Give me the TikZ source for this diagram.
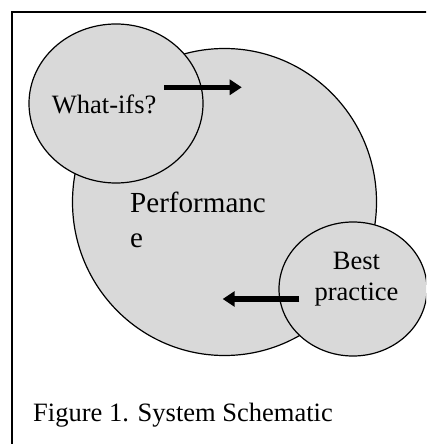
\documentclass[tikz,border=0pt]{standalone}
\usepackage{fontspec}
\setmainfont{Liberation Serif}
\usetikzlibrary{shapes.geometric,arrows.meta}
\definecolor{blobfill}{RGB}{217,217,217}
\tikzset{
  blob/.style={ellipse, draw=black, line width=1.2bp, fill=blobfill, inner sep=0pt},
  lbl/.style={inner sep=0pt, font=\fontsize{26.6}{31}\selectfont},
  biglbl/.style={inner sep=0pt, font=\fontsize{29.2}{34}\selectfont},
  flow/.style={line width=5.5bp, -{Triangle[length=12bp,width=15bp]}}
}
\begin{document}
\begin{tikzpicture}[x=1bp,y=-1bp]
\useasboundingbox (0,0) rectangle (426,444);
\clip (0,0) rectangle (426,444);
\draw[line width=1.5bp] (12,460) -- (12,12) -- (440,12);
\node[blob, minimum width=304bp, minimum height=307bp] (perf) at (224.5,202) {};
\node[blob, minimum width=174bp, minimum height=159bp] (what) at (116,103.5) {};
\node[blob, minimum width=148bp, minimum height=134bp] (best) at (353,289) {};
\node[lbl, anchor=base west] (whatt) at (51.7,114) {What-ifs?};
\node[biglbl, anchor=base west] (perft1) at (130,213) {Performanc};
\node[biglbl, anchor=base west] (perft2) at (130,247) {e};
\node[lbl, anchor=base] (bestt1) at (356.5,269) {Best};
\node[lbl, anchor=base] (bestt2) at (356.5,300) {practice};
\node[lbl, anchor=base west] (cap) at (33,421) {Figure 1. System Schematic};
\coordinate (a1s) at (164,87.3);
\coordinate (a1e) at (241.7,87.3);
\coordinate (a2s) at (299.3,299);
\coordinate (a2e) at (222.7,299);
\draw[flow] (a1s) -- (a1e);
\draw[flow] (a2s) -- (a2e);
\end{tikzpicture}
\end{document}
